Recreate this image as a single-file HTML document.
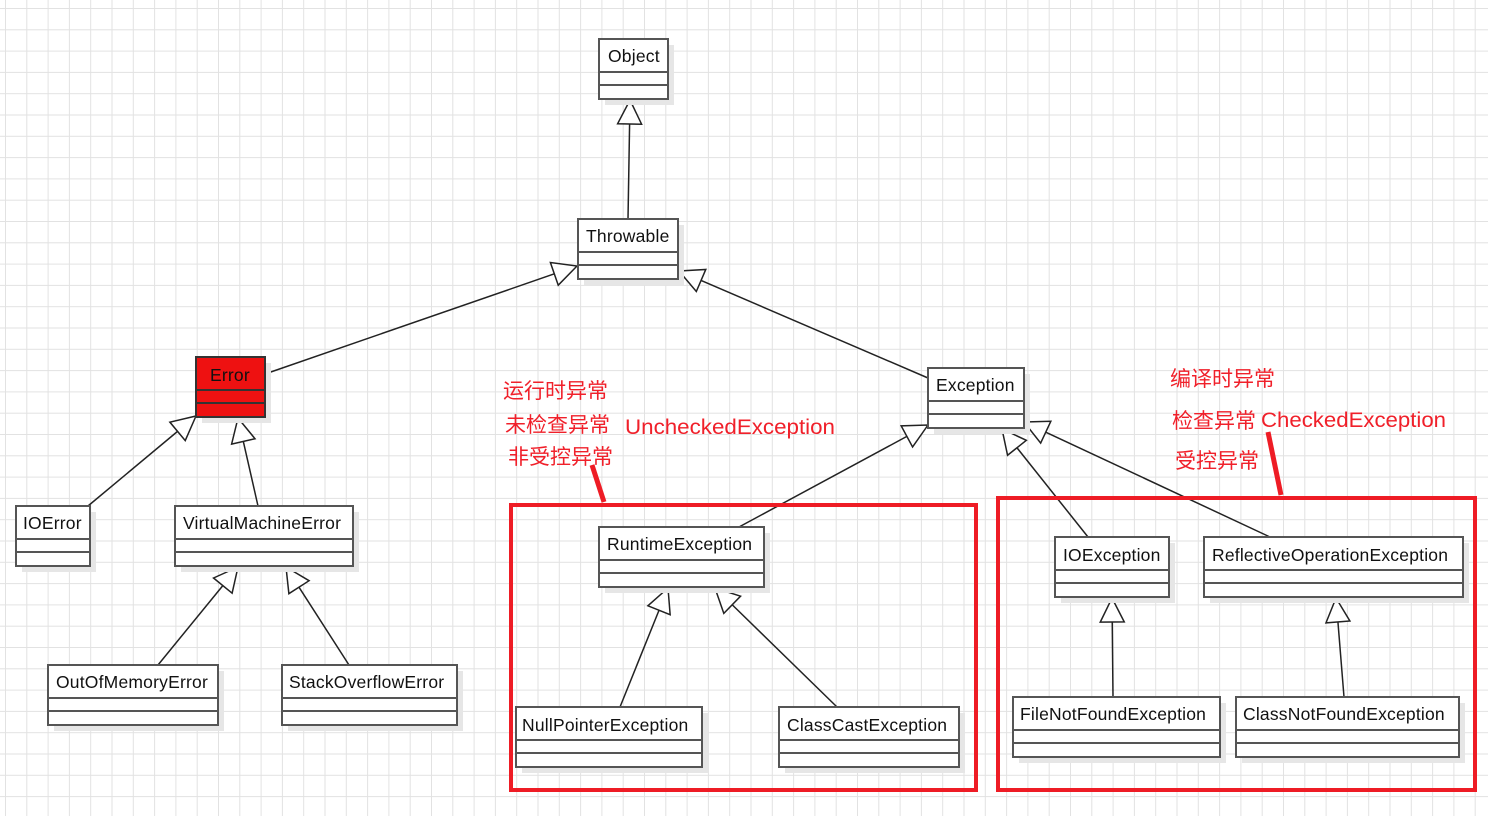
<!DOCTYPE html>
<html><head><meta charset="utf-8"><style>
html,body{margin:0;padding:0;background:#fff;}
svg{display:block;}
.sh{fill:#e6e6e6;}
.t{font-family:"Liberation Sans",sans-serif;font-size:17.5px;fill:#111;letter-spacing:0.2px;}
.r{font-family:"Liberation Sans","Noto Sans CJK SC",sans-serif;font-size:21px;fill:#f0202a;}
.l{stroke:#222;stroke-width:1.5;fill:none;}
</style></head><body>
<svg id="s" width="1488" height="816" viewBox="0 0 1488 816" xmlns="http://www.w3.org/2000/svg">
<defs><pattern id="g" x="5" y="8" width="21.3" height="21.3" patternUnits="userSpaceOnUse"><path d="M0 0H21.3M0 0V21.3" stroke="#e2e2e2" stroke-width="2" fill="none"/></pattern></defs>
<rect width="1488" height="816" fill="url(#g)"/>
<g id="lines"></g>
<g id="boxes"></g>
<g>
<text class="t" x="608" y="62">Object</text>
<text class="t" x="586" y="242">Throwable</text>
<text class="t" x="210" y="381">Error</text>
<text class="t" x="936" y="391">Exception</text>
<text class="t" x="23" y="529">IOError</text>
<text class="t" x="183" y="529">VirtualMachineError</text>
<text class="t" x="56" y="688">OutOfMemoryError</text>
<text class="t" x="289" y="688">StackOverflowError</text>
<text class="t" x="607" y="550">RuntimeException</text>
<text class="t" x="522" y="731">NullPointerException</text>
<text class="t" x="787" y="731">ClassCastException</text>
<text class="t" x="1063" y="561">IOException</text>
<text class="t" x="1212" y="561">ReflectiveOperationException</text>
<text class="t" x="1020" y="720">FileNotFoundException</text>
<text class="t" x="1243" y="720">ClassNotFoundException</text>
</g>
<text class="r" x="503" y="398">运行时异常</text>
<text class="r" x="505" y="432">未检查异常</text>
<text class="r" x="625" y="434" font-size="24" textLength="210" lengthAdjust="spacingAndGlyphs">UncheckedException</text>
<text class="r" x="508" y="464">非受控异常</text>
<text class="r" x="1170" y="386">编译时异常</text>
<text class="r" x="1172" y="428">检查异常</text>
<text class="r" x="1261" y="427" font-size="24" textLength="185" lengthAdjust="spacingAndGlyphs">CheckedException</text>
<text class="r" x="1175" y="468">受控异常</text>
<g stroke="#ee1c25" fill="none">
<rect x="511" y="505" width="465" height="285" stroke-width="4"/>
<rect x="998" y="498" width="477" height="292" stroke-width="4"/>
<line x1="592" y1="465" x2="604" y2="502" stroke-width="5"/>
<line x1="1268" y1="432" x2="1281" y2="495" stroke-width="5"/>
</g>
</svg>
<script>
var NS="http://www.w3.org/2000/svg";
function el(p,n,a){var e=document.createElementNS(NS,n);for(var k in a)e.setAttribute(k,a[k]);p.appendChild(e);return e;}
var B=document.getElementById('boxes'),L=document.getElementById('lines');
var boxes=[[599,39,668,99],[578,219,678,279],[196,357,265,417,1],[928,368,1024,428],[16,506,90,566],[175,506,353,566],[48,665,218,725],[282,665,457,725],[599,527,764,587],[516,707,702,767],[779,707,959,767],[1055,537,1169,597],[1204,537,1463,597],[1013,697,1220,757],[1236,697,1459,757]];
boxes.forEach(function(b){
 el(B,'rect',{x:b[0]+6,y:b[1]+6,width:b[2]-b[0],height:b[3]-b[1],'class':'sh'});
 var f=b[4]?'#ee1111':'#fff',c=b[4]?'#333':'#555';
 el(B,'rect',{x:b[0],y:b[1],width:b[2]-b[0],height:b[3]-b[1],fill:f,stroke:c,'stroke-width':2});
 el(B,'line',{x1:b[0],x2:b[2],y1:b[1]+33,y2:b[1]+33,stroke:c,'stroke-width':2});
 el(B,'line',{x1:b[0],x2:b[2],y1:b[1]+46,y2:b[1]+46,stroke:c,'stroke-width':2});
});
var arr=[[628,219,630,100],[265,374,577,266],[928,378,679,271],[88,506,196,416],[258,506,238,418],[158,665,238,567],[349,665,286,567],[739,527,928,425],[1088,537,1002,429],[1270,537,1024,422],[620,707,668,588],[837,707,715,588],[1113,697,1112,598],[1344,697,1336,598]];
arr.forEach(function(a){
 var dx=a[2]-a[0],dy=a[3]-a[1],len=Math.hypot(dx,dy),ux=dx/len,uy=dy/len,s=24,w=12;
 var bx=a[2]-ux*s,by=a[3]-uy*s;
 el(L,'line',{x1:a[0],y1:a[1],x2:bx,y2:by,'class':'l'});
 el(L,'polygon',{points:a[2]+','+a[3]+' '+(bx-uy*w)+','+(by+ux*w)+' '+(bx+uy*w)+','+(by-ux*w),fill:'#fff',stroke:'#222','stroke-width':1.5});
});
</script>
</body></html>
